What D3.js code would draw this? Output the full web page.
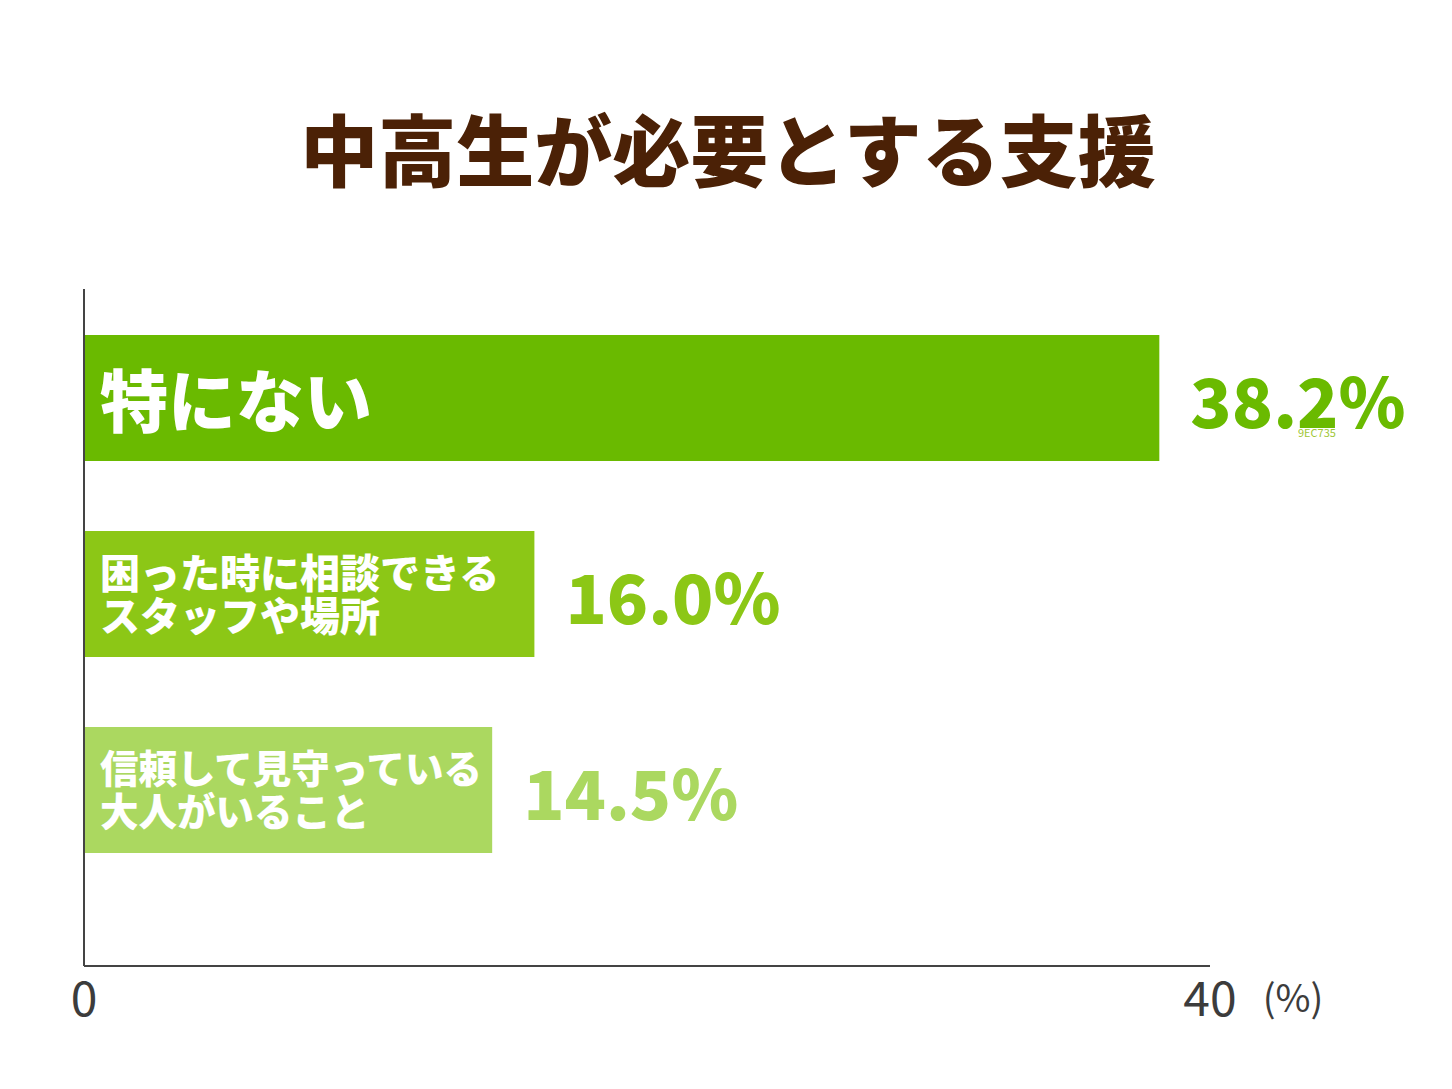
<!DOCTYPE html>
<html>
<head>
<meta charset="utf-8">
<script src="https://cdn.jsdelivr.net/npm/d3@7"></script>
<style>
  body { margin: 0; background: #fff; }
  text { font-family: "Noto Sans CJK JP", "Noto Sans", sans-serif; }
</style>
</head>
<body>
<svg id="mysvg"></svg>
<script>
const w = 1452, h = 1089;

const title = "中高生が必要とする支援";
const categories = [
    ["特にない"],
    ["困った時に相談できる", "スタッフや場所"],
    ["信頼して見守っている", "大人がいること"]
];
const values = [38.2, 16.0, 14.5];
const colors = ["#6aba00", "#8cc716", "#abd860"];
const xticks = [0, 40];

const svg = d3.select("#mysvg")
    .attr("width", w)
    .attr("height", h);

const xScale = d3.scaleLinear()
    .domain([0, 40])
    .range([84, 1210]);

const yScale = d3.scaleBand()
    .domain(d3.range(values.length))
    .range([335, 853])
    .paddingInner(70 / 196)
    .paddingOuter(0);

// title
svg.append("text")
    .attr("x", 728)
    .attr("y", 181)
    .attr("text-anchor", "middle")
    .attr("font-size", 78)
    .attr("font-weight", 900)
    .attr("fill", "#4b2106")
    .text(title);

// bars
svg.selectAll(".bar")
    .data(values)
    .enter().append("rect")
    .attr("class", "bar")
    .attr("x", xScale(0))
    .attr("y", (d, i) => yScale(i))
    .attr("width", d => xScale(d) - xScale(0))
    .attr("height", yScale.bandwidth())
    .attr("fill", (d, i) => colors[i]);

// labels inside bars
const labelSize = [68, 40, 38.5];
categories.forEach((lines, i) => {
    const cy = yScale(i) + yScale.bandwidth() / 2 + (lines.length == 1 ? 5 : 1);
    const lh = 43;
    lines.forEach((s, k) => {
        svg.append("text")
            .attr("fill", "#fff")
            .attr("font-size", labelSize[i])
            .attr("font-weight", 900)
            .attr("x", 100)
            .attr("y", cy + (k - (lines.length - 1) / 2) * lh)
            .attr("dy", "0.35em")
            .text(s);
    });
});

// value labels
svg.selectAll(".val")
    .data(values)
    .enter().append("text")
    .attr("class", "val")
    .attr("x", d => xScale(d) + 31)
    .attr("y", (d, i) => yScale(i) + yScale.bandwidth() / 2 + 6)
    .attr("dy", "0.35em")
    .attr("font-size", 68)
    .attr("font-weight", 900)
    .attr("fill", (d, i) => colors[i])
    .text(d => d.toFixed(1) + "%");

// stray colour note left in the original artwork
svg.append("text")
    .attr("x", 1298)
    .attr("y", 437)
    .attr("font-size", 11)
    .attr("fill", "#9ec735")
    .text("9EC735");

// axes
svg.append("line")
    .attr("x1", xScale(0)).attr("x2", xScale(0))
    .attr("y1", 289).attr("y2", 966)
    .attr("stroke", "#444").attr("stroke-width", 2);

svg.append("line")
    .attr("x1", xScale(0)).attr("x2", xScale(40))
    .attr("y1", 966).attr("y2", 966)
    .attr("stroke", "#444").attr("stroke-width", 2);

svg.selectAll(".tick")
    .data(xticks)
    .enter().append("text")
    .attr("class", "tick")
    .attr("x", d => xScale(d))
    .attr("y", 1016)
    .attr("text-anchor", "middle")
    .attr("font-size", 48)
    .attr("fill", "#3c3c3c")
    .text(d => d);

svg.append("text")
    .attr("x", 1293)
    .attr("y", 1012)
    .attr("text-anchor", "middle")
    .attr("font-size", 38)
    .attr("fill", "#3c3c3c")
    .text("(%)");
</script>
</body>
</html>
